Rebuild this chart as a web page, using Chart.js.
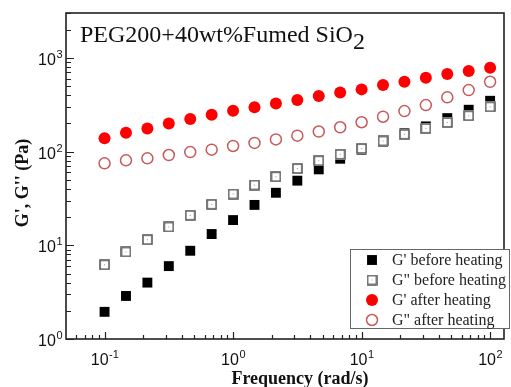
<!DOCTYPE html>
<html>
<head>
<meta charset="utf-8">
<script src="https://cdn.jsdelivr.net/npm/chart.js@4.4.1/dist/chart.umd.min.js"></script>
<style>
  html, body { margin: 0; padding: 0; background: #fff; }
  #rheo { display: block; }
</style>
</head>
<body>
<canvas id="rheo" width="511" height="387"></canvas>
<script>
// Frequency sweep, 6 points per decade
const freq = [0.1, 0.1468, 0.2154, 0.3162, 0.4642, 0.6813, 1, 1.468, 2.154, 3.162,
  4.642, 6.813, 10, 14.68, 21.54, 31.62, 46.42, 68.13, 100];
const gp_before = [1.95, 2.88, 4.0, 6.0, 8.75, 13.2, 18.6, 27, 36.4, 49, 64.7, 84, 105,
  128, 157, 186, 228, 280, 349];
const gpp_before = [6.2, 8.5, 11.5, 15.7, 20.9, 27.4, 35.3, 44, 54, 66, 80, 93.6, 108,
  130, 153, 177, 205, 242, 301];
const gp_after = [139, 159, 177, 200, 223, 248, 273, 297, 327, 355, 392, 429, 462,
  514, 557, 615, 673, 725, 786];
const gpp_after = [75, 80.7, 84.8, 92, 99, 105, 115, 124, 135, 148, 164, 182, 206,
  236, 271, 314, 380, 454, 557];

const seriesLabels = ["G' before heating", 'G" before heating', "G' after heating", 'G" after heating'];
const xDecades = [-1, 0, 1, 2];
const yDecades = [0, 1, 2, 3];

const X_MIN = Math.pow(10, -1.3), X_MAX = Math.pow(10, 2.108);
const Y_MIN = 1, Y_MAX = Math.pow(10, 3.48);

// open square with a tiny center dot (Origin style)
function openSquare() {
  const c = document.createElement('canvas');
  c.width = 11; c.height = 11;
  const g = c.getContext('2d');
  g.fillStyle = '#fff';
  g.fillRect(0, 0, 11, 11);
  g.strokeStyle = '#5a5a5a';
  g.lineWidth = 1.6;
  g.strokeRect(1, 1, 9, 9);
  g.fillStyle = '#999';
  g.fillRect(5, 5, 1, 1);
  return c;
}
const sqImg = openSquare();

const pts = (ys) => freq.map((f, i) => ({ x: f, y: ys[i] }));

const datasets = [
  { label: seriesLabels[0], data: pts(gp_before), order: 4, pointStyle: 'rect',
    pointRadius: 7, backgroundColor: '#000', borderColor: '#000', borderWidth: 0 },
  { label: seriesLabels[1], data: pts(gpp_before), order: 3, pointStyle: sqImg,
    pointRadius: 6, backgroundColor: '#fff', borderColor: '#5a5a5a', borderWidth: 0 },
  { label: seriesLabels[2], data: pts(gp_after), order: 2, pointStyle: 'circle',
    pointRadius: 6, backgroundColor: '#ff0000', borderColor: '#ff0000', borderWidth: 0 },
  { label: seriesLabels[3], data: pts(gpp_after), order: 1, pointStyle: 'circle',
    pointRadius: 5.5, backgroundColor: 'rgba(255,255,255,0)', borderColor: '#c65a5a', borderWidth: 1.5 }
];
datasets.forEach(d => { d.showLine = false; d.pointHoverRadius = d.pointRadius; });

const SANS = '"Liberation Sans", Arial, sans-serif';
const SERIF = '"Liberation Serif", "Times New Roman", serif';

// "10" with a raised exponent
function drawPow(ctx, x, y, exp, align) {
  ctx.font = '16px ' + SANS;
  const wb = ctx.measureText('10').width;
  ctx.font = '11px ' + SANS;
  const we = ctx.measureText(exp).width;
  let left = x;
  if (align === 'center') left = x - (wb + we) / 2;
  else if (align === 'right') left = x - wb - we;
  ctx.textAlign = 'left';
  ctx.textBaseline = 'alphabetic';
  ctx.font = '16px ' + SANS;
  ctx.fillText('10', left, y);
  ctx.font = '11px ' + SANS;
  ctx.fillText(exp, left + wb + 0.5, y - 7);
}

const decor = {
  id: 'decor',
  afterDraw(chart) {
    const { ctx, chartArea: a, scales } = chart;
    const xs = scales.x, ys = scales.y;
    ctx.save();
    ctx.fillStyle = '#111';
    ctx.strokeStyle = '#222';

    // frame
    ctx.lineWidth = 1.6;
    ctx.strokeRect(a.left, a.top, a.right - a.left, a.bottom - a.top);

    // inward ticks
    ctx.lineWidth = 1.2;
    ctx.beginPath();
    for (let d = -2; d <= 2; d++) {
      for (let m = 1; m <= 9; m++) {
        const v = m * Math.pow(10, d);
        if (v < X_MIN || v > X_MAX) continue;
        const px = Math.round(xs.getPixelForValue(v)) + 0.5;
        ctx.moveTo(px, a.bottom);
        ctx.lineTo(px, a.bottom - (m === 1 ? 7 : 4));
      }
    }
    for (let d = 0; d <= 3; d++) {
      for (let m = 1; m <= 9; m++) {
        const v = m * Math.pow(10, d);
        if (v < Y_MIN || v > Y_MAX) continue;
        const py = Math.round(ys.getPixelForValue(v)) + 0.5;
        ctx.moveTo(a.left, py);
        ctx.lineTo(a.left + (m === 1 ? 8 : 5), py);
      }
    }
    ctx.stroke();

    // tick labels
    xDecades.forEach(d => drawPow(ctx, xs.getPixelForValue(Math.pow(10, d)), 365, String(d), 'center'));
    yDecades.forEach(d => drawPow(ctx, a.left - 4, ys.getPixelForValue(Math.pow(10, d)) + 7, String(d), 'right'));

    // axis titles
    ctx.font = 'bold 18px ' + SERIF;
    ctx.textAlign = 'center';
    ctx.textBaseline = 'alphabetic';
    ctx.fillText('Frequency (rad/s)', 300, 384);
    ctx.save();
    ctx.translate(28, 183);
    ctx.rotate(-Math.PI / 2);
    ctx.fillText('G\', G\'\' (Pa)', 0, 0);
    ctx.restore();

    // in-plot title
    ctx.textAlign = 'left';
    ctx.font = '24px ' + SERIF;
    const t = 'PEG200+40wt%Fumed SiO';
    ctx.fillText(t, 80, 42);
    ctx.fillText('2', 80 + ctx.measureText(t).width, 49);

    // legend
    const lx = 350, ly = 249, lw = 159, lh = 79;
    ctx.fillStyle = '#fff';
    ctx.fillRect(lx, ly, lw, lh);
    ctx.strokeStyle = '#666';
    ctx.lineWidth = 1;
    ctx.strokeRect(lx + 0.5, ly + 0.5, lw, lh);
    ctx.font = '16px ' + SERIF;
    datasets.forEach((ds, i) => {
      const cy = ly + 11 + i * 20;
      ctx.save();
      ctx.fillStyle = ds.backgroundColor;
      ctx.strokeStyle = ds.borderColor;
      ctx.lineWidth = ds.borderWidth;
      Chart.helpers.drawPoint(ctx, {
        pointStyle: ds.pointStyle, radius: ds.pointRadius, rotation: 0, borderWidth: ds.borderWidth
      }, 372, cy);
      ctx.restore();
      ctx.fillStyle = '#222';
      ctx.textBaseline = 'middle';
      ctx.fillText(ds.label, 392, cy + 1);
    });
    ctx.restore();
  }
};

new Chart(document.getElementById('rheo'), {
  type: 'scatter',
  data: { datasets },
  options: {
    responsive: false,
    devicePixelRatio: 1,
    animation: false,
    layout: { padding: { left: 66, top: 13, right: 2, bottom: 48 } },
    plugins: { legend: { display: false }, tooltip: { enabled: false } },
    scales: {
      x: { type: 'logarithmic', min: X_MIN, max: X_MAX, display: false },
      y: { type: 'logarithmic', min: Y_MIN, max: Y_MAX, display: false }
    }
  },
  plugins: [decor]
});
</script>
</body>
</html>
